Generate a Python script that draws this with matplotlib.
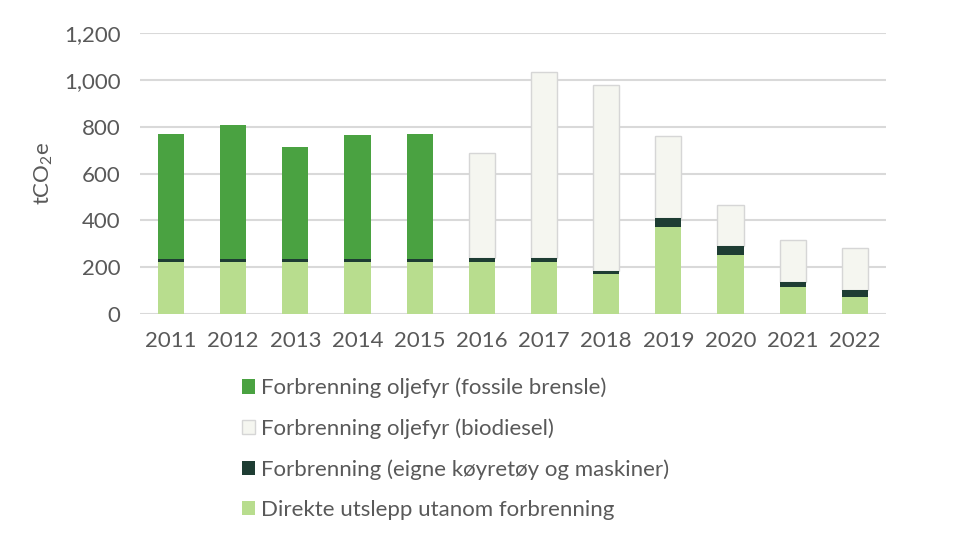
import numpy as np
import matplotlib.pyplot as plt
from matplotlib.patches import Patch

years = ["2011", "2012", "2013", "2014", "2015", "2016",
         "2017", "2018", "2019", "2020", "2021", "2022"]
direkte = [224, 224, 224, 224, 224, 224, 224, 169, 373, 254, 115, 71]
maskiner = [13, 13, 13, 13, 9, 14, 14, 14, 36, 35, 21, 31]
fossil = [532, 570, 476, 527, 536, 0, 0, 0, 0, 0, 0, 0]
biodiesel = [0, 0, 0, 0, 0, 448, 795, 794, 353, 178, 180, 181]

labels = ["Forbrenning oljefyr (fossile brensle)",
          "Forbrenning oljefyr (biodiesel)",
          "Forbrenning (eigne køyretøy og maskiner)",
          "Direkte utslepp utanom forbrenning"]

C_FOSSIL = "#4aa241"
C_BIO = "#f5f6f0"
C_BIO_EDGE = "#d6d6d6"
C_DARK = "#1e3d33"
C_LIGHT = "#b8dd8e"
TXT = "#595959"

plt.rcParams['font.family'] = ['Lato', 'DejaVu Sans']

fig = plt.figure(figsize=(9.56, 5.44), dpi=100)
ax = fig.add_axes([0.1464, 0.4228, 0.7803, 0.5165])

x = np.arange(len(years))
w = 0.42
d = np.array(direkte)
m = np.array(maskiner)
f = np.array(fossil)
b = np.array(biodiesel)

ax.bar(x, d, w, color=C_LIGHT, zorder=3)
ax.bar(x, f, w, bottom=d + m, color=C_FOSSIL, zorder=3)
bio_mask = b > 0
ax.bar(x[bio_mask], b[bio_mask], w, bottom=(d + m)[bio_mask], color=C_BIO,
       edgecolor=C_BIO_EDGE, linewidth=1.0, zorder=3)
# dark segment drawn last so the biodiesel outline does not cover it
ax.bar(x, m, w, bottom=d, color=C_DARK, zorder=4)

ax.set_xlim(-0.5, len(years) - 0.5)
ax.set_ylim(0, 1200)
ax.set_yticks(np.arange(0, 1201, 200))
ax.set_yticklabels([f"{v:,}" for v in range(0, 1201, 200)])
ax.set_xticks(x)
ax.set_xticklabels(years)
ax.tick_params(length=0, labelsize=16, labelcolor=TXT)
ax.tick_params(axis='y', pad=14)
ax.tick_params(axis='x', pad=12)
ax.grid(axis='y', color="#d9d9d9", linewidth=1.5, zorder=0)
for s in ax.spines.values():
    s.set_visible(False)
ax.set_ylabel(r"tCO$_\mathregular{2}$e", fontsize=16, color=TXT)
ax.yaxis.set_label_coords(-0.114, 0.5)

handles = [Patch(facecolor=C_FOSSIL),
           Patch(facecolor=C_BIO, edgecolor=C_BIO_EDGE),
           Patch(facecolor=C_DARK),
           Patch(facecolor=C_LIGHT)]
fig.legend(handles, labels, loc="upper left", bbox_to_anchor=(0.244, 0.322),
           frameon=False, fontsize=16, labelcolor=TXT, handlelength=0.6,
           handleheight=0.6, handletextpad=0.25, labelspacing=0.9,
           borderaxespad=0)

fig.savefig("out.png", dpi=100)
